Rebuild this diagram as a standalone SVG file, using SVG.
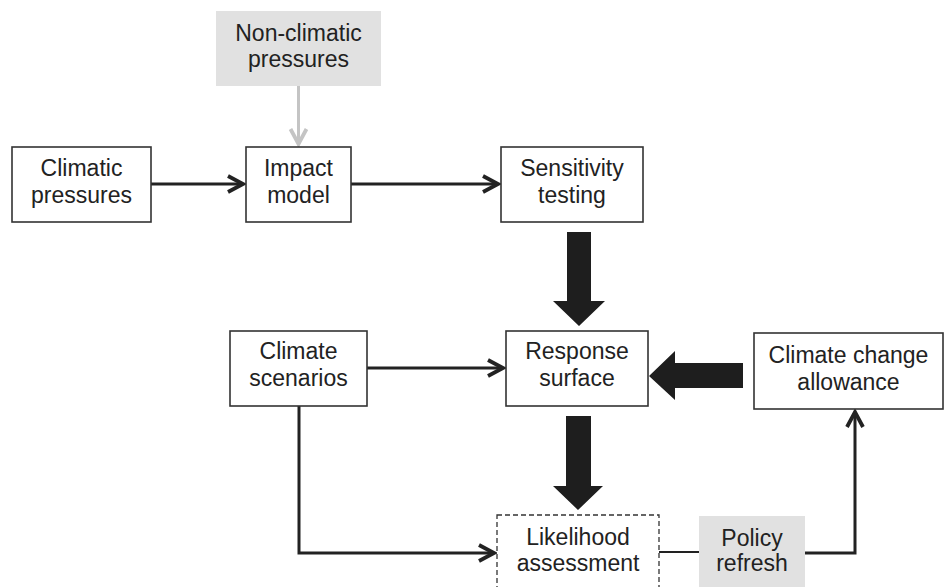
<svg xmlns="http://www.w3.org/2000/svg" width="944" height="587" viewBox="0 0 944 587">
  <style>
    .box { fill: #ffffff; stroke: #333333; stroke-width: 1.6; }
    .grey { fill: #e1e1e1; stroke: none; }
    .dash { fill: #ffffff; stroke: #333333; stroke-width: 1.3; stroke-dasharray: 5 3; }
    .lbl { font-family: "Liberation Sans", Arial, sans-serif; font-size: 23px; fill: #222222; text-anchor: middle; }
    .wire { fill: none; stroke: #222222; stroke-width: 3; }
    .thin { fill: none; stroke: #222222; stroke-width: 2; }
    .soft { fill: none; stroke: #c4c4c4; stroke-width: 3; }
    .block { fill: #1e1e1e; stroke: none; }
  </style>
  <defs>
    <marker id="chev" markerUnits="userSpaceOnUse" markerWidth="24" markerHeight="24" viewBox="-18 -12 22 24" refX="0" refY="0" orient="auto">
      <path d="M-15,-8 L0,0 L-15,8" fill="none" stroke="#222222" stroke-width="3.8" stroke-linejoin="miter"/>
    </marker>
    <marker id="chevSoft" markerUnits="userSpaceOnUse" markerWidth="24" markerHeight="24" viewBox="-18 -12 22 24" refX="0" refY="0" orient="auto">
      <path d="M-15,-8 L0,0 L-15,8" fill="none" stroke="#c4c4c4" stroke-width="3.8"/>
    </marker>
  </defs>

  <rect width="944" height="587" fill="#ffffff"/>

  <!-- connectors -->
  <g id="connectors">
    <line class="soft" x1="298.5" y1="86" x2="298.5" y2="144" marker-end="url(#chevSoft)"/>
    <line class="wire" x1="151" y1="184" x2="243" y2="184" marker-end="url(#chev)"/>
    <line class="wire" x1="351" y1="184" x2="498" y2="184" marker-end="url(#chev)"/>
    <line class="wire" x1="367" y1="368" x2="503" y2="368" marker-end="url(#chev)"/>
    <polyline class="wire" points="299,406 299,553 494,553" marker-end="url(#chev)"/>
    <line class="thin" x1="659" y1="552" x2="699" y2="552"/>
    <polyline class="wire" points="805,553 855,553 855,412" marker-end="url(#chev)"/>
    <!-- block arrows -->
    <polygon class="block" points="567,232 591,232 591,301 605,301 579,326 553,301 567,301"/>
    <polygon class="block" points="566,416 591,416 591,486 603,486 578,510 553,486 566,486"/>
    <polygon class="block" points="743,363 743,388 675,388 675,400 649,376 675,351 675,363"/>
  </g>

  <!-- nodes -->
  <g id="non-climatic">
    <rect class="grey" x="216" y="11" width="165" height="75"/>
    <text class="lbl" x="298.5" y="41">Non-climatic</text>
    <text class="lbl" x="298.5" y="67">pressures</text>
  </g>
  <g id="climatic">
    <rect class="box" x="12" y="147" width="139" height="75"/>
    <text class="lbl" x="81.5" y="176">Climatic</text>
    <text class="lbl" x="81.5" y="203">pressures</text>
  </g>
  <g id="impact">
    <rect class="box" x="246" y="147" width="105" height="75"/>
    <text class="lbl" x="298.5" y="176">Impact</text>
    <text class="lbl" x="298.5" y="203">model</text>
  </g>
  <g id="sensitivity">
    <rect class="box" x="501" y="147" width="142" height="75"/>
    <text class="lbl" x="572" y="176">Sensitivity</text>
    <text class="lbl" x="572" y="203">testing</text>
  </g>
  <g id="scenarios">
    <rect class="box" x="230" y="331" width="137" height="75"/>
    <text class="lbl" x="298.5" y="359">Climate</text>
    <text class="lbl" x="298.5" y="386">scenarios</text>
  </g>
  <g id="response">
    <rect class="box" x="506" y="331" width="142" height="75"/>
    <text class="lbl" x="577" y="359">Response</text>
    <text class="lbl" x="577" y="386">surface</text>
  </g>
  <g id="allowance">
    <rect class="box" x="754" y="333" width="189" height="76"/>
    <text class="lbl" x="848.5" y="363">Climate change</text>
    <text class="lbl" x="848.5" y="390">allowance</text>
  </g>
  <g id="likelihood">
    <rect class="dash" x="497" y="515" width="162" height="80"/>
    <text class="lbl" x="578" y="545">Likelihood</text>
    <text class="lbl" x="578" y="571">assessment</text>
  </g>
  <g id="policy">
    <rect class="grey" x="699" y="516" width="106" height="80"/>
    <text class="lbl" x="752" y="546">Policy</text>
    <text class="lbl" x="752" y="571">refresh</text>
  </g>
</svg>
